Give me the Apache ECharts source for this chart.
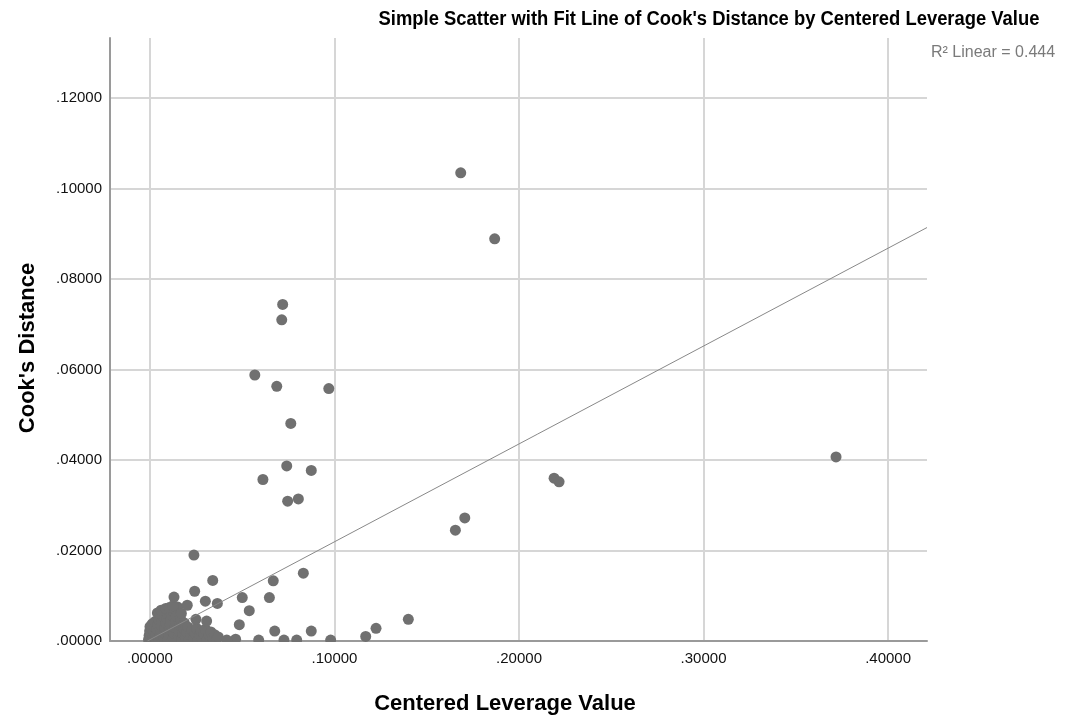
<!DOCTYPE html>
<html>
<head>
<meta charset="utf-8">
<script src="https://cdn.jsdelivr.net/npm/echarts@6/dist/echarts.min.js"></script>
<style>
html,body{margin:0;padding:0;background:#fff;}
#chart{width:1065px;height:717px;}
</style>
</head>
<body>
<div id="chart"></div>
<script>
// ---- data ----
var titleText = "Simple Scatter with Fit Line of Cook's Distance by Centered Leverage Value";
var xName = "Centered Leverage Value";
var yName = "Cook's Distance";
var fitLabel = "R\u00B2 Linear = 0.444";

var xTicks = [0, 0.1, 0.2, 0.3, 0.4];
var yTicks = [0, 0.02, 0.04, 0.06, 0.08, 0.10, 0.12];
var xRange = [-0.02168, 0.4211];
var yRange = [0, 0.1333];

// outlying cases
var outlierPoints = [
  [0.1684, 0.1035], [0.1868, 0.0889], [0.0719, 0.0744], [0.0714, 0.0710],
  [0.0568, 0.0588], [0.0687, 0.0563], [0.0969, 0.0558], [0.0763, 0.0481],
  [0.0741, 0.0387], [0.0874, 0.0377], [0.0612, 0.0357], [0.0746, 0.0309],
  [0.0804, 0.0314], [0.3718, 0.0407], [0.2190, 0.0360], [0.2217, 0.0352],
  [0.1706, 0.0272], [0.1655, 0.0245]
];
// moderate cases
var midPoints = [
  [0.0238, 0.0190], [0.0340, 0.0134], [0.0831, 0.0150], [0.0668, 0.0133],
  [0.0130, 0.0097], [0.0242, 0.0110], [0.0202, 0.0079], [0.0300, 0.0088],
  [0.0365, 0.0083], [0.0500, 0.0096], [0.0647, 0.0096], [0.0538, 0.0067],
  [0.0249, 0.0048], [0.0307, 0.0044], [0.0484, 0.0036], [0.0676, 0.0022],
  [0.0874, 0.0022], [0.1400, 0.0048], [0.1225, 0.0028], [0.1169, 0.0010],
  [0.0979, 0.0002], [0.0795, 0.0002], [0.0726, 0.0002], [0.0589, 0.0002],
  [0.0464, 0.0004], [0.0416, 0.0002]
];
// dense cluster near the origin
var clusterPoints = [
  [-0.0008,0.0003],[-0.0005,0.0012],[-0.0002,0.0022],[0.0000,0.0032],[0.0003,0.0006],
  [0.0006,0.0016],[0.0009,0.0027],[0.0012,0.0038],[0.0015,0.0002],[0.0018,0.0011],
  [0.0021,0.0021],[0.0024,0.0031],[0.0027,0.0043],[0.0030,0.0005],[0.0034,0.0015],
  [0.0038,0.0026],[0.0042,0.0036],[0.0046,0.0048],[0.0050,0.0003],[0.0054,0.0012],
  [0.0058,0.0022],[0.0062,0.0033],[0.0066,0.0045],[0.0070,0.0055],[0.0074,0.0007],
  [0.0078,0.0018],[0.0082,0.0029],[0.0086,0.0040],[0.0090,0.0051],[0.0094,0.0060],
  [0.0098,0.0002],[0.0102,0.0013],[0.0106,0.0025],[0.0110,0.0036],[0.0114,0.0047],
  [0.0118,0.0058],[0.0122,0.0068],[0.0126,0.0006],[0.0130,0.0017],[0.0134,0.0030],
  [0.0138,0.0042],[0.0142,0.0055],[0.0146,0.0066],[0.0150,0.0075],[0.0154,0.0010],
  [0.0158,0.0022],[0.0162,0.0035],[0.0166,0.0048],[0.0170,0.0061],[0.0174,0.0004],
  [0.0178,0.0016],[0.0182,0.0028],[0.0186,0.0040],
  [0.0040,0.0062],[0.0060,0.0068],[0.0085,0.0072],[0.0105,0.0074],[0.0125,0.0078],
  [0.0192,0.0008],[0.0198,0.0020],[0.0205,0.0031],[0.0212,0.0003],[0.0220,0.0013],
  [0.0228,0.0024],[0.0236,0.0006],[0.0244,0.0017],[0.0252,0.0028],[0.0260,0.0002],
  [0.0268,0.0012],[0.0276,0.0022],[0.0284,0.0005],[0.0292,0.0015],[0.0300,0.0026],
  [0.0310,0.0004],[0.0320,0.0013],[0.0330,0.0020],[0.0340,0.0006],[0.0350,0.0014],
  [0.0360,0.0004],[0.0370,0.0009]
];
// fit line end points
var fitLine = [[-0.0014, 0], [0.4211, 0.0914]];

// ---- chart ----
var FONT = "'Liberation Sans', Arial, sans-serif";
function fmt(v){ return v.toFixed(5).replace(/^0/, '').replace(/^-0/, '-'); }

var chart = echarts.init(document.getElementById('chart'), null, {renderer: 'canvas'});
var allPoints = clusterPoints.concat(midPoints, outlierPoints);

chart.setOption({
  backgroundColor: '#ffffff',
  animation: false,
  grid: {left: 110, right: 138, top: 38, bottom: 76, containLabel: false},
  xAxis: {
    type: 'value', min: xRange[0], max: xRange[1],
    axisLine: {show: true, onZero: false, lineStyle: {color: '#9a9a9a', width: 2}},
    axisTick: {show: false, customValues: xTicks},
    axisLabel: {customValues: xTicks, formatter: fmt, margin: 10, color: '#111',
      fontFamily: FONT, fontSize: 15},
    splitLine: {show: true, lineStyle: {color: '#d6d6d6', width: 2}}
  },
  yAxis: {
    type: 'value', min: yRange[0], max: yRange[1],
    axisLine: {show: true, onZero: false, lineStyle: {color: '#9a9a9a', width: 2}},
    axisTick: {show: false, customValues: yTicks},
    axisLabel: {customValues: yTicks, formatter: fmt, margin: 8, color: '#111',
      fontFamily: FONT, fontSize: 15, padding: [8, 0, 0, 0]},
    splitLine: {show: true, lineStyle: {color: '#d6d6d6', width: 2}}
  },
  series: [
    {
      type: 'scatter', data: allPoints, symbol: 'circle', symbolSize: 11,
      itemStyle: {color: '#707070', opacity: 1}, z: 2, silent: true
    },
    {
      type: 'line', data: fitLine, showSymbol: false, symbol: 'none',
      lineStyle: {color: '#888888', width: 1}, z: 3, silent: true, clip: true
    }
  ],
  graphic: [
    {type: 'rect', z: 50, silent: true,
      shape: {x: 100, y: 642, width: 840, height: 8},
      style: {fill: '#ffffff'}},
    {type: 'text', z: 60, x: 709, y: 19, scaleX: 0.92,
      style: {text: titleText, fill: '#000', font: 'bold 20px ' + FONT,
        align: 'center', verticalAlign: 'middle'}},
    {type: 'text', z: 60, x: 931, y: 53,
      style: {text: fitLabel, fill: '#7a7a7a', font: '16px ' + FONT,
        align: 'left', verticalAlign: 'middle'}},
    {type: 'text', z: 60, x: 505, y: 704,
      style: {text: xName, fill: '#000', font: 'bold 22px ' + FONT,
        align: 'center', verticalAlign: 'middle'}},
    {type: 'text', z: 60, x: 28, y: 348, rotation: Math.PI / 2,
      style: {text: yName, fill: '#000', font: 'bold 22px ' + FONT,
        align: 'center', verticalAlign: 'middle'}}
  ]
});
</script>
</body>
</html>
